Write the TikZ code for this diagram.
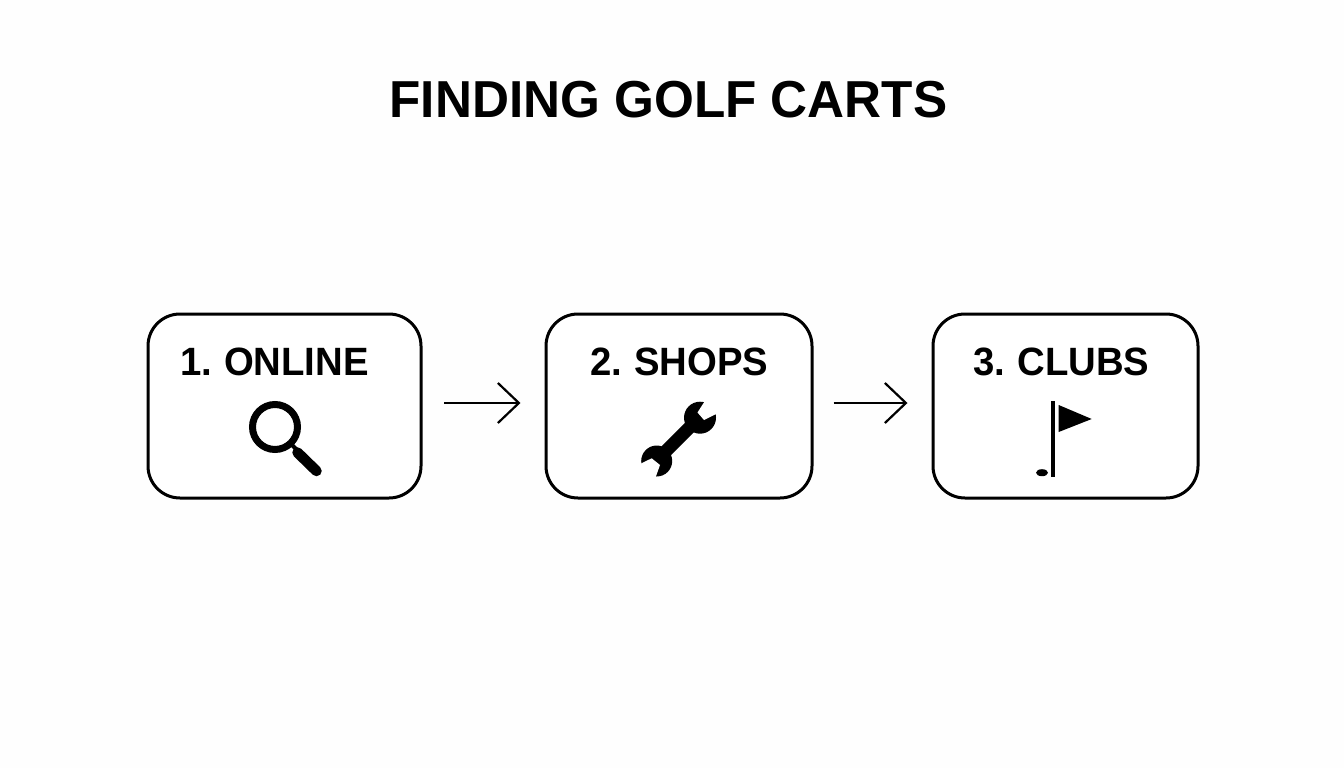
\documentclass[tikz,border=0pt]{standalone}
\usepackage{fontspec}
\setmainfont{Liberation Sans}[BoldFont={Liberation Sans Bold}]
\newfontfamily\titlefont{Liberation Sans Bold}[FakeStretch=0.985]
\newfontfamily\labelfont{Liberation Sans Bold}[FakeStretch=0.97,WordSpace=0.8]
\usetikzlibrary{arrows.meta}
\tikzset{
  stepbox/.style={draw=black,line width=3pt,rounded corners=32pt,fill=white,inner sep=0pt,minimum height=184pt},
  titletext/.style={text=black,inner sep=0pt,anchor=center,font=\titlefont\fontsize{52}{52}\selectfont},
  steptext/.style={text=black,inner sep=0pt,anchor=center,font=\labelfont\fontsize{39.5}{40}\selectfont},
  flow/.style={draw=black,line width=2.2pt,-{Straight Barb[length=21pt,width=40pt,line width=2.2pt]}},
  ink/.style={fill=black,draw=none}
}
\begin{document}
\begin{tikzpicture}[x=1pt,y=-1pt]
\useasboundingbox[fill=white!99.5!black] (0,0) rectangle (1344,768);
\node[titletext] (title) at (668.5,100) {FINDING GOLF CARTS};
\node[stepbox,minimum width=273pt] (online) at (284.5,406) {};
\node[stepbox,minimum width=266pt] (shops) at (679,406) {};
\node[stepbox,minimum width=265pt] (clubs) at (1065.5,406) {};
\node[steptext] (l1) at (274.5,362) {1. ONLINE};
\node[steptext] (l2) at (679.5,362) {2. SHOPS};
\node[steptext] (l3) at (1061.5,362) {3. CLUBS};
\draw[flow,shorten <=21.5pt,shorten >=24pt] (online.east |- 0,403) -- (shops.west |- 0,403);
\draw[flow,shorten <=20pt,shorten >=24pt] (shops.east |- 0,403) -- (clubs.west |- 0,403);
% magnifier
\draw[line width=7pt] (275,427) circle (22.5pt);
\draw[line width=4pt] (290,443) -- (298,451);
\draw[line width=10.5pt,line cap=round] (297.5,452.5) -- (316.5,471);
% wrench
\fill[ink] (700,417.7) circle (16pt);
\fill[ink] (656.7,461) circle (15.5pt);
\draw[line width=13pt] (692,425) -- (664,453);
\fill[white] (705.5,400) -- (697.5,412.5) -- (704,420) -- (718,413) -- (722,398) -- cycle;
\fill[white] (651.7,458.3) -- (660,465) -- (655,479) -- (638,479) -- (640,464) -- cycle;
% flag
\draw[line width=4.3pt] (1053.3,401) -- (1053.3,476.7);
\fill[ink] (1058.7,405) -- (1091.7,419) -- (1058.7,432) -- cycle;
\fill[ink] (1042,472.7) ellipse (6pt and 3.5pt);
\end{tikzpicture}
\end{document}
